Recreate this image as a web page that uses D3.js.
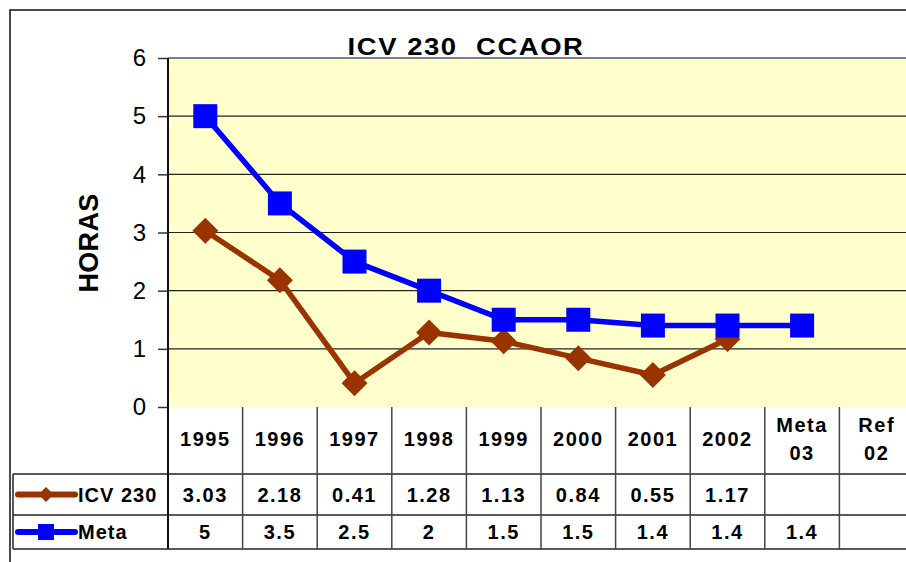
<!DOCTYPE html>
<html>
<head>
<meta charset="utf-8">
<script src="https://cdn.jsdelivr.net/npm/d3@7"></script>
<style>
  html, body { margin: 0; padding: 0; background: #fff; }
  svg { display: block; font-family: "Liberation Sans", Arial, sans-serif; }
</style>
</head>
<body>
<svg id="chart" width="906" height="562"></svg>
<script>
// Categories along the x axis (header row of the data table)
const categories = ["1995", "1996", "1997", "1998", "1999", "2000", "2001", "2002", "Meta 03", "Ref 02"];
// Series values (null = no value)
const icv230 = [3.03, 2.18, 0.41, 1.28, 1.13, 0.84, 0.55, 1.17, null, null];
const meta = [5, 3.5, 2.5, 2, 1.5, 1.5, 1.4, 1.4, 1.4, null];
const yTicks = [0, 1, 2, 3, 4, 5, 6];

const series = [
  { name: "ICV 230", values: icv230, color: "#993300", marker: "diamond" },
  { name: "Meta", values: meta, color: "#0000FF", marker: "square" }
];

const svg = d3.select("#chart");

const plot = { left: 168, right: 914, top: 58, bottom: 407 };
const table = { legendLeft: 13, rowH: [474, 515, 549] };

const x = d3.scaleBand().domain(categories).range([plot.left, plot.right]).padding(0);
const y = d3.scaleLinear().domain([0, 6]).range([plot.bottom, plot.top]);

// Outer chart border
svg.append("rect")
  .attr("x", 10).attr("y", 10).attr("width", 1000).attr("height", 1000)
  .attr("fill", "none").attr("stroke", "#111").attr("stroke-width", 1.5);

// Plot background
svg.append("rect")
  .attr("x", plot.left).attr("y", plot.top)
  .attr("width", plot.right - plot.left).attr("height", plot.bottom - plot.top)
  .attr("fill", "#FFFFCC");

// Plot top border
svg.append("line")
  .attr("x1", plot.left).attr("x2", plot.right)
  .attr("y1", plot.top).attr("y2", plot.top)
  .attr("stroke", "#808080").attr("stroke-width", 2);

// Horizontal gridlines
svg.append("g").selectAll("line")
  .data(yTicks.filter(t => t > 0 && t < 6))
  .join("line")
  .attr("x1", plot.left).attr("x2", plot.right)
  .attr("y1", d => y(d)).attr("y2", d => y(d))
  .attr("stroke", "#222").attr("stroke-width", 1.2);

// Y axis with outward ticks
const yAxis = svg.append("g")
  .attr("transform", `translate(${plot.left},0)`)
  .call(d3.axisLeft(y).tickValues(yTicks).tickSize(10).tickPadding(12).tickFormat(d3.format("d")));
yAxis.select(".domain").remove();
yAxis.selectAll(".tick line").attr("stroke", "#333").attr("stroke-width", 1.5);
yAxis.selectAll(".tick text")
  .attr("font-size", 24).attr("fill", "#000")
  .attr("font-family", "Liberation Sans, Arial, sans-serif");

// Y axis line
svg.append("line")
  .attr("x1", plot.left).attr("x2", plot.left)
  .attr("y1", plot.top).attr("y2", table.rowH[2])
  .attr("stroke", "#111").attr("stroke-width", 2);

// Y axis title
svg.append("text")
  .attr("transform", "translate(98,243) rotate(-90)")
  .attr("text-anchor", "middle")
  .attr("font-size", 27).attr("font-weight", "bold")
  .attr("letter-spacing", 0.3)
  .text("HORAS");

// Chart title (slightly widened glyphs)
svg.append("text")
  .attr("transform", "translate(466,55) scale(1.12,1)")
  .attr("text-anchor", "middle")
  .attr("font-size", 24.5).attr("font-weight", "bold")
  .attr("letter-spacing", 1.4)
  .style("white-space", "pre")
  .text("ICV 230  CCAOR");

// Series lines and markers
const line = d3.line()
  .defined(d => d.v != null)
  .x(d => x(d.c) + x.bandwidth() / 2)
  .y(d => y(d.v));

function drawMarker(g, type, cx, cy, size, color) {
  if (type === "square") {
    g.append("rect")
      .attr("x", cx - size / 2).attr("y", cy - size / 2)
      .attr("width", size).attr("height", size)
      .attr("fill", color);
  } else {
    const h = size / 2;
    g.append("path")
      .attr("d", `M${cx},${cy - h}L${cx + h},${cy}L${cx},${cy + h}L${cx - h},${cy}Z`)
      .attr("fill", color);
  }
}

series.forEach(s => {
  const pts = categories.map((c, i) => ({ c, v: s.values[i] }));
  const g = svg.append("g");
  g.append("path")
    .attr("d", line(pts))
    .attr("fill", "none")
    .attr("stroke", s.color)
    .attr("stroke-width", 5.5)
    .attr("stroke-linejoin", "round");
  pts.filter(p => p.v != null).forEach(p => {
    drawMarker(g, s.marker, x(p.c) + x.bandwidth() / 2, y(p.v),
      s.marker === "square" ? 24 : 26, s.color);
  });
});

// Data table
const tg = svg.append("g");
const tableLine = "#222";

// Horizontal row lines
table.rowH.forEach(yy => {
  tg.append("line")
    .attr("x1", table.legendLeft).attr("x2", plot.right)
    .attr("y1", yy).attr("y2", yy)
    .attr("stroke", tableLine).attr("stroke-width", 1.5);
});
// Legend column left edge
tg.append("line")
  .attr("x1", table.legendLeft).attr("x2", table.legendLeft)
  .attr("y1", table.rowH[0]).attr("y2", table.rowH[2])
  .attr("stroke", tableLine).attr("stroke-width", 1.5);

// Column separators
tg.selectAll("line.col")
  .data(categories.slice(1))
  .join("line")
  .attr("class", "col")
  .attr("x1", d => x(d)).attr("x2", d => x(d))
  .attr("y1", plot.bottom).attr("y2", table.rowH[2])
  .attr("stroke", "#444").attr("stroke-width", 1.5);

// Header labels
categories.forEach(c => {
  const parts = c.split(" ");
  const cx = x(c) + x.bandwidth() / 2;
  const t = tg.append("text")
    .attr("text-anchor", "middle")
    .attr("font-size", 20).attr("font-weight", "bold")
    .attr("letter-spacing", 1.5);
  if (parts.length === 1) {
    t.append("tspan").attr("x", cx).attr("y", 446).text(parts[0]);
  } else {
    t.append("tspan").attr("x", cx).attr("y", 432).text(parts[0]);
    t.append("tspan").attr("x", cx).attr("y", 460).text(parts[1]);
  }
});

// Value rows with legend keys
series.forEach((s, r) => {
  const top = table.rowH[r], bot = table.rowH[r + 1];
  const cy = (top + bot) / 2;
  tg.append("line")
    .attr("x1", 18).attr("x2", 75)
    .attr("y1", cy).attr("y2", cy)
    .attr("stroke", s.color).attr("stroke-width", 6)
    .attr("stroke-linecap", "round");
  drawMarker(tg, s.marker, 46, cy, s.marker === "square" ? 16 : 15, s.color);
  tg.append("text")
    .attr("x", 78).attr("y", cy + 7)
    .attr("font-size", 20).attr("font-weight", "bold")
    .attr("letter-spacing", 1)
    .text(s.name);
  s.values.forEach((v, i) => {
    if (v == null) return;
    tg.append("text")
      .attr("x", x(categories[i]) + x.bandwidth() / 2)
      .attr("y", cy + 7)
      .attr("text-anchor", "middle")
      .attr("font-size", 20).attr("font-weight", "bold")
      .attr("letter-spacing", 1.5)
      .text(String(v));
  });
});
</script>
</body>
</html>
